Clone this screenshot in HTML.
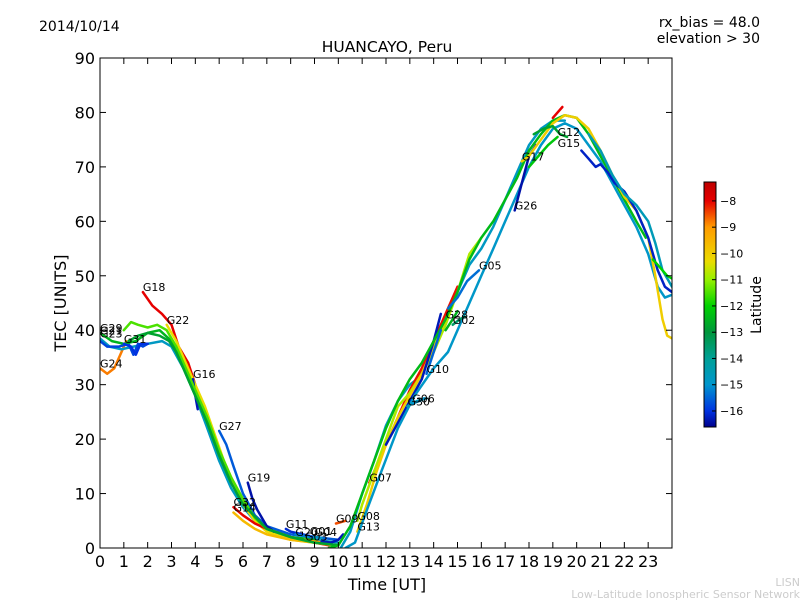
<!DOCTYPE html>
<html><head><meta charset="utf-8"><style>
html,body{margin:0;padding:0;background:#fff;width:800px;height:600px;overflow:hidden}
svg text{font-family:"DejaVu Sans","Liberation Sans",sans-serif}
</style></head><body>
<svg id="chart" width="800" height="600" xmlns="http://www.w3.org/2000/svg">
<defs>
<linearGradient id="cmap" x1="0" y1="1" x2="0" y2="0"></linearGradient>
<clipPath id="plotclip"><rect x="100" y="58" width="572" height="490"/></clipPath>
</defs>
<rect width="800" height="600" fill="#fff"/>
<text x="39" y="31" font-size="14">2014/10/14</text>
<text x="760" y="27" font-size="14" text-anchor="end">rx_bias = 48.0</text>
<text x="760" y="43" font-size="14" text-anchor="end">elevation &gt; 30</text>
<text x="387" y="52" font-size="15.5" text-anchor="middle">HUANCAYO, Peru</text>
<g id="tracks" clip-path="url(#plotclip)"></g>
<g id="labels"></g>
<rect x="100" y="58" width="572" height="490" fill="none" stroke="#000" stroke-width="1"/>
<g id="axes"></g>
<text x="387" y="590" font-size="16" text-anchor="middle">Time [UT]</text>
<text transform="translate(66,303) rotate(-90)" font-size="16" text-anchor="middle">TEC [UNITS]</text>
<rect x="704" y="182" width="12" height="245" fill="url(#cmap)" stroke="#000" stroke-width="1"/>
<g id="cbar"></g>
<text transform="translate(761,305) rotate(-90)" font-size="14" text-anchor="middle">Latitude</text>
<text x="800" y="586" font-size="11" fill="#ccc" text-anchor="end">LISN</text>
<text x="800" y="598" font-size="11" fill="#ccc" text-anchor="end">Low-Latitude Ionospheric Sensor Network</text>
</svg>
<script>
const xTicks=[0,1,2,3,4,5,6,7,8,9,10,11,12,13,14,15,16,17,18,19,20,21,22,23];
const yTicks=[0,10,20,30,40,50,60,70,80,90];
const cbTicks=[-8,-9,-10,-11,-12,-13,-14,-15,-16];
const trackNames=["G24","G29","G23","G21","G18","G22","G16","G27","G19","G32","G14","G31","","G11","G20","G01","G04","G03","","G09","","","G07","G08","G13","","","G05","","G26","G17","G12","G15","","","","","G30","G06","G28","G02","G10"];
const trackLat=[-8.8,-14.8,-15.8,-12.5,-8.0,-10.3,-16.3,-15.6,-16.4,-8.0,-9.6,-16.0,-11.5,-16.1,-15.2,-15.5,-14.8,-9.0,-16.3,-8.5,-12.8,-14.8,-8.1,-10.8,-10.0,-16.3,-12.4,-15.4,-14.9,-16.4,-10.0,-12.8,-12.2,-8.0,-16.2,-14.6,-12.0,-14.5,-15.0,-12.5,-13.5,-15.5];
const trackT=[
[0,0.3,0.6,0.9,1.1],
[0,0.4,0.9,1.4,2.0,2.6,3.0,3.5,4.0,4.5,5.0,5.5,6.0,6.5,7.0,7.5,8.0,9.0,10.0],
[0,0.3,0.8,1.2,1.4,1.6,1.8,2.0],
[0,0.5,1.0,1.5,2.0,2.5,3.0,3.5,4.0,4.5,5.0,5.5,6.0,6.5,7.0,8.0,9.0],
[1.8,2.2,2.6,3.0,3.3,3.7,4.0,4.2],
[2.8,3.2,3.6,4.0,4.4,4.8,5.2,5.6,6.0,6.5,7.0,8.0,9.0,9.6],
[3.9,4.0,4.1],
[5.0,5.3,5.6,6.0,6.5,7.0,8.0,9.0,10.0],
[6.2,6.4,6.6,7.0,7.3],
[5.6,6.0,6.5,7.0,8.0,9.0,9.6],
[5.6,6.0,6.5,7.0,8.0,9.0,9.8],
[1.0,1.3,1.5,1.7,2.0],
[1.0,1.3,1.6,2.0,2.4,2.8,3.2,3.6,4.0,4.5,5.0,5.5,6.0,6.5,7.0,8.0,9.0,10.0],
[7.8,8.0,8.5,9.0],
[8.2,8.6,9.0],
[8.8,9.1,9.4],
[9.0,9.3],
[8.6,9.0,9.4],
[9.3,9.7,10.0,10.2],
[9.9,10.3],
[1.2,1.6,2.0,2.5,2.9,3.2,3.6,4.0,4.5,5.0,5.5,6.0,7.0,8.0,9.0,10.0],
[10.1,10.5,11.0,11.5,12.0,12.5,13.0,13.3,13.6,14.0,14.5,15.0,15.5,16.0,16.5,17.0,17.5,18.0,18.5,19.0,19.5],
[11.3,11.6,12.0,12.5,13.0,13.5,14.0,14.5,15.0],
[10.8,11.0,11.5,12.0,12.5,13.0,13.5,14.0,14.5,15.0,15.5,16.0],
[10.8,11.2,11.6,12.0,12.5,13.0,13.5,14.0,14.5],
[12.0,12.5,13.0,13.5,14.0,14.3],
[9.6,10.0,10.5,11.0,11.5,12.0,12.5,13.0,13.5,14.0,14.5,15.0,15.5,16.0,16.5,17.0,17.5,18.0,18.5,19.0,19.5,20.0,20.5,21.0,21.5,22.0,22.5,22.9],
[14.6,15.0,15.4,15.9],
[10.3,10.7,11.2,11.8,12.5,13.2,14.0,14.6,15.0,15.5,16.0,16.5,17.0,17.5,18.0,18.5,19.0,19.5,20.0,20.5,21.0,21.5,22.0,22.5,23.0,23.4,23.7,24.0],
[17.4,17.7,18.0,18.3],
[17.7,18.0,18.5,19.0,19.5,20.0,20.5,21.0,21.5,22.0,22.5,23.0,23.3,23.6,23.8,24.0],
[18.2,18.6,19.0,19.3,19.6],
[18.0,18.4,18.8,19.2],
[19.0,19.2,19.4],
[20.2,20.5,20.8,21.0,21.3,21.6,22.0,22.5,23.0,23.4,23.7,24.0],
[20.5,21.0,21.5,22.0,22.5,23.0,23.3,23.6,24.0],
[23.2,23.5,23.8,24.0],
[12.9,13.3,13.7],
[13.1,13.4,13.6],
[14.5,14.8,15.0],
[14.8,15.1,15.3],
[13.7,14.0,14.3]
];
const trackV=[
[33,32,33,36,38],
[38.5,37,36.5,37,37.5,38,37,33,28,22,16,11,7.5,5,3.5,2.5,2,1.5,1],
[38,37,37,37.5,35.5,37.5,37,37.5],
[39.5,38,37.5,38,39.5,40,38,33,28,23,17,12,8.5,5.5,3.5,2,1.5],
[47,44.5,43,41,37,34,30,26],
[41,38,34,30,26,21,16,12,8,5,3,1.5,1,0.8],
[31,28,25.5],
[21.5,19,15,10,6,4,2.5,2,1.5],
[12,9,7,4,3],
[7.5,6,4.5,3.5,2,1,0.5],
[6.5,5,3.5,2.5,1.5,1,0.5],
[37.5,37,35.5,37.5,37.5],
[40,41.5,41,40.5,41,40,37,33,29,24,18,13,9,5.5,3.5,2,1,0.5],
[3.5,3,2.5,2],
[2.5,2.2,2],
[2,2,1.8],
[2,1.8],
[1.5,1.2,1],
[1.2,1,1.5,2.5],
[4.5,5],
[38,39,39.5,39,38,36,32,28,23,17,12,8,3.5,2,1,0.5],
[0,3,10,16,22.5,27,30,31,33,37,42,47,52,55,59,64,69,74,77,78.5,78.5],
[12,15,19,24,29,33,38,43,48],
[5,8,14,20,26,28.5,32,36,41,47,54,57],
[3,8,14,19,24,28,32,37,42],
[19,23,27,31,38,43],
[0,0.5,4,10,16,22,27,31,34,38,42,47,53,57,60,64,68,73,76,78.5,79.5,79,76,72,68,64,60,57],
[44,46,49,51],
[0,1,7,14,22,28,33,36,40,45,50,55,60,65,70,74,77,78,77,74,71,67,63,59,54,48,46,46.5],
[62,67,72,74],
[71,72,75,78,79.5,79,77,73,68.5,64.5,62,57,50,42,39,38.5],
[76,77,77.5,76,75.5],
[70,72,74,75.5],
[79,80,81],
[73,71.5,70,70.5,69,67,65.5,62,57,51,48,47],
[76,73,68.5,65,63,60,56,51,48],
[53,51.5,50,49.5],
[26,27,27.5],
[26.5,27,27.5],
[40,42,43.5],
[41,42,42.5],
[32,36,40]
];
const trackLblT=[0,0,0,0,1.8,2.8,3.9,5.0,6.2,5.6,5.6,1.0,null,7.8,8.2,8.8,9.0,8.6,null,9.9,null,null,11.3,10.8,10.8,null,null,15.9,null,17.4,17.7,19.2,19.2,null,null,null,null,12.9,13.1,14.5,14.8,13.7];
const trackLblV=[33,39.5,38.5,39,47,41,31,21.5,12,7.5,6.5,37.5,null,3.5,2,2.2,2,1.2,null,4.5,null,null,12,5,3,null,null,51,null,62,71,75.5,73.5,null,null,null,null,26,26.5,42,41,32];

const X=t=>100+t*572/24;
const Y=v=>548-v*490/90;
const LATTOP=-7.28, LATBOT=-16.61;
const cmLat=[-16.61,-16.0,-15.0,-14.0,-13.0,-12.0,-11.0,-10.3,-9.0,-8.0,-7.28];
const cmRGB=[[0,0,140],[0,50,225],[0,150,205],[0,160,150],[0,150,60],[0,210,0],[150,240,0],[235,220,0],[255,155,0],[230,0,0],[190,0,0]];
function cmap(lat){
  if(lat<=cmLat[0])return `rgb(${cmRGB[0]})`;
  for(let i=1;i<cmLat.length;i++){
    if(lat<=cmLat[i]){
      const f=(lat-cmLat[i-1])/(cmLat[i]-cmLat[i-1]);
      const c=cmRGB[i-1].map((a,k)=>Math.round(a+(cmRGB[i][k]-a)*f));
      return `rgb(${c})`;
    }
  }
  return `rgb(${cmRGB[cmRGB.length-1]})`;
}
const NS="http://www.w3.org/2000/svg";
function mk(tag,attrs,parent){const e=document.createElementNS(NS,tag);for(const k in attrs)e.setAttribute(k,attrs[k]);parent.appendChild(e);return e;}
const grad=document.getElementById('cmap');
cmLat.forEach((l,i)=>{mk('stop',{offset:(l-LATBOT)/(LATTOP-LATBOT),'stop-color':`rgb(${cmRGB[i]})`},grad);});
const gT=document.getElementById('tracks'),gL=document.getElementById('labels'),gA=document.getElementById('axes'),gC=document.getElementById('cbar');
for(let i=0;i<trackT.length;i++){
  const d=trackT[i].map((t,j)=>(j?'L':'M')+X(t).toFixed(1)+','+Y(trackV[i][j]).toFixed(1)).join('');
  const p=mk('path',{d:d,fill:'none',stroke:cmap(trackLat[i]),'stroke-width':2.5,'stroke-linejoin':'round','stroke-linecap':'round'},gT);
  
  
  if(trackNames[i]&&trackLblT[i]!==null){
    const tx=mk('text',{x:X(trackLblT[i]),y:Y(trackLblV[i])-1,'font-size':11},gL);
    tx.textContent=trackNames[i];
    
    
  }
}
xTicks.forEach(t=>{
  mk('line',{x1:X(t),x2:X(t),y1:548,y2:542,stroke:'#000'},gA);
  mk('line',{x1:X(t),x2:X(t),y1:58,y2:64,stroke:'#000'},gA);
  const tx=mk('text',{x:X(t),y:567,'font-size':16,'text-anchor':'middle'},gA);
  tx.textContent=t;
  
  
});
yTicks.forEach(v=>{
  mk('line',{x1:100,x2:106,y1:Y(v),y2:Y(v),stroke:'#000'},gA);
  mk('line',{x1:672,x2:666,y1:Y(v),y2:Y(v),stroke:'#000'},gA);
  const tx=mk('text',{x:95,y:Y(v)+6,'font-size':16,'text-anchor':'end'},gA);
  tx.textContent=v;
  
  
});
cbTicks.forEach(l=>{
  const y=182+(LATTOP-l)/(LATTOP-LATBOT)*245;
  mk('line',{x1:712,x2:716,y1:y,y2:y,stroke:'#000'},gC);
  const tx=mk('text',{x:720,y:y+4,'font-size':11},gC);
  tx.textContent='\u2212'+Math.abs(l);
  
  
});
</script>
</body></html>
